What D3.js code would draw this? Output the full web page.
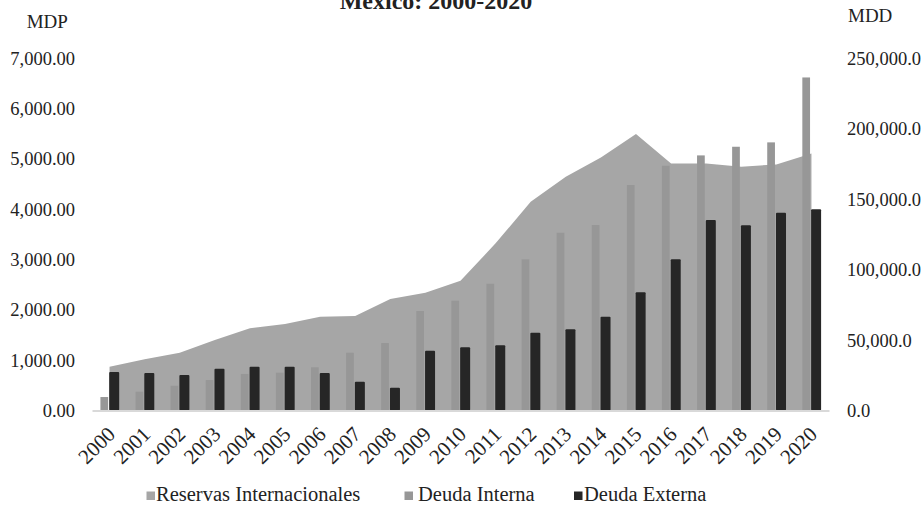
<!DOCTYPE html>
<html><head><meta charset="utf-8">
<script src="https://cdn.jsdelivr.net/npm/d3@7"></script>
<style>
body{margin:0;background:#fff}
svg{display:block}
svg text{font-family:"Liberation Serif","Times New Roman",Tinos,"DejaVu Serif",serif !important;fill:#222}
</style>
</head><body>
<svg id="c" width="923" height="505"></svg>
<script>
const years = ["2000","2001","2002","2003","2004","2005","2006","2007","2008","2009","2010","2011","2012","2013","2014","2015","2016","2017","2018","2019","2020"];
// Reservas Internacionales (MDD, right axis)
const reservas = [31100, 36400, 41000, 50100, 58400, 61400, 66600, 67100, 79200, 83600, 92100, 118700, 148300, 166000, 179700, 196300, 175500, 175500, 173100, 174800, 182600];
// Deuda Interna (MDP, left axis)
const deudaInterna = [268, 374, 493, 606, 726, 752, 859, 1149, 1342, 1978, 2183, 2521, 3006, 3535, 3688, 4483, 4867, 5073, 5245, 5332, 6623];
// Deuda Externa (MDP, left axis)
const deudaExterna = [765, 746, 706, 831, 871, 871, 746, 573, 453, 1189, 1256, 1296, 1547, 1614, 1865, 2350, 3006, 3787, 3682, 3932, 4000];
const leftTicks = [0, 1000, 2000, 3000, 4000, 5000, 6000, 7000];
const rightTicks = [0, 50000, 100000, 150000, 200000, 250000];
const seriesNames = ["Reservas Internacionales", "Deuda Interna", "Deuda Externa"];
const title = "México: 2000-2020";

const FF = '"Liberation Serif","Times New Roman",Tinos,"DejaVu Serif",serif';
const colors = {res: "#a6a6a6", int: "#979797", ext: "#262626"};
const svg = d3.select("#c");
const x = d3.scaleBand().domain(years).range([92, 829]).padding(0);
const bw = x.bandwidth();
const yL = d3.scaleLinear().domain([0, 7000]).range([410.5, 58.5]);
const yR = d3.scaleLinear().domain([0, 250000]).range([410.5, 58.5]);
const cx = d => x(d) + bw / 2;

// area
const area = d3.area()
  .x((d, i) => cx(years[i]))
  .y0(yR(0))
  .y1(d => yR(d));
svg.append("path").datum(reservas).attr("d", area).attr("fill", colors.res);

// Deuda Interna bars
svg.append("g").selectAll("rect").data(deudaInterna).join("rect")
  .attr("x", (d, i) => cx(years[i]) - 0.26 * bw)
  .attr("width", 0.22 * bw)
  .attr("y", d => yL(d))
  .attr("height", d => yL(0) - yL(d))
  .attr("fill", colors.int);

// Deuda Externa bars
svg.append("g").selectAll("rect").data(deudaExterna).join("rect")
  .attr("x", (d, i) => cx(years[i]) - 0.01 * bw)
  .attr("width", 0.285 * bw)
  .attr("y", d => yL(d))
  .attr("height", d => yL(0) - yL(d))
  .attr("rx", 1)
  .attr("fill", colors.ext);

// axes
const gL = svg.append("g").attr("transform", "translate(92,0)")
  .call(d3.axisLeft(yL).tickValues(leftTicks).tickFormat(d3.format(",.2f")).tickSize(0).tickPadding(17));
gL.attr("font-family", FF);
gL.select(".domain").remove();
gL.selectAll("text").attr("font-size", "18.5px").attr("fill", "#222");

const gR = svg.append("g").attr("transform", "translate(829,0)")
  .call(d3.axisRight(yR).tickValues(rightTicks).tickFormat(d3.format(",.1f")).tickSize(0).tickPadding(18));
gR.attr("font-family", FF);
gR.select(".domain").remove();
gR.selectAll("text").attr("font-size", "18.5px").attr("fill", "#222");

const gX = svg.append("g").attr("transform", "translate(0,410.5)")
  .call(d3.axisBottom(x).tickSize(0).tickSizeOuter(0));
gX.attr("font-family", FF);
gX.select(".domain").attr("stroke", "#d9d9d9").attr("stroke-width", 2);
gX.selectAll("text")
  .attr("x", 0).attr("y", 0).attr("dy", 0)
  .attr("text-anchor", "end")
  .attr("transform", "translate(7,25) rotate(-45)")
  .attr("font-size", "21px").attr("fill", "#222");

// axis titles
svg.append("text").attr("x", 26.7).attr("y", 28.3).attr("font-size", "19px").text("MDP");
svg.append("text").attr("x", 848).attr("y", 21.7).attr("font-size", "19px").text("MDD");

// title (partly above the top edge, as in the reference)
svg.append("text").attr("x", 436).attr("y", 9).attr("text-anchor", "middle")
  .attr("font-size", "24px").attr("font-weight", "bold").text(title);

// legend
const legX = [146.5, 404.5, 574];
const legTX = [156, 418, 584];
const legC = [colors.res, colors.int, colors.ext];
const leg = svg.append("g");
seriesNames.forEach((n, i) => {
  leg.append("rect").attr("x", legX[i]).attr("y", 491.5).attr("width", 8.5).attr("height", 8.5).attr("fill", legC[i]);
  leg.append("text").attr("x", legTX[i]).attr("y", 500.5).attr("font-size", "20.5px").text(n);
});
</script>
</body></html>
